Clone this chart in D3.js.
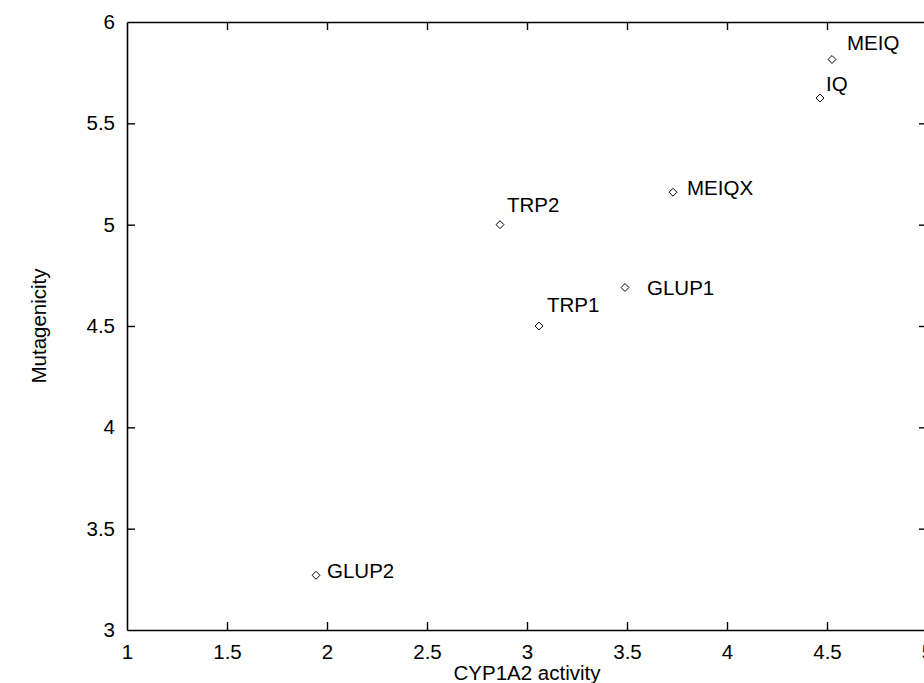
<!DOCTYPE html>
<html>
<head>
<meta charset="utf-8">
<script src="https://cdn.jsdelivr.net/npm/d3@7"></script>
<style>
  body { margin: 0; background: #fff; }
  svg { display: block; font-family: "Liberation Sans", Arial, sans-serif; }
</style>
</head>
<body>
<svg id="chart" width="924" height="683"></svg>
<script>
// compounds, CYP1A2 activity vs mutagenicity
var names = ["GLUP2", "TRP2", "TRP1", "GLUP1", "MEIQX", "IQ", "MEIQ"];
var activity = [1.945, 2.865, 3.06, 3.49, 3.73, 4.465, 4.525];
var mutagenicity = [3.27, 5.0, 4.5, 4.69, 5.16, 5.625, 5.815];

var xTicks = [1, 1.5, 2, 2.5, 3, 3.5, 4, 4.5, 5];
var yTicks = [3, 3.5, 4, 4.5, 5, 5.5, 6];

// label nudges (px) relative to each marker
var labelDx = [11, 7, 8, 22, 14, 6, 15];
var labelDy = [-4, -20, -21, 0, -4, -14, -17];

var points = names.map(function(n, i) {
    return {name: n, x: activity[i], y: mutagenicity[i], dx: labelDx[i], dy: labelDy[i]};
});

var fontSize = "20.5px";
var margin = {top: 22, right: -3, bottom: 53, left: 127};
var width = 924 - margin.left - margin.right,
    height = 683 - margin.top - margin.bottom;

var svg = d3.select("#chart");
var g = svg.append("g").attr("transform", "translate(" + margin.left + "," + margin.top + ")");

var x = d3.scaleLinear().domain([1, 5]).range([0, width]);
var y = d3.scaleLinear().domain([3, 6]).range([height, 0]);

var fmt = function(d) { return d3.format("")(d); };

// bottom axis with labels, ticks pointing in
var xAxis = g.append("g")
    .attr("transform", "translate(0," + height + ")")
    .call(d3.axisBottom(x).tickValues(xTicks).tickFormat(fmt).tickSizeInner(-8).tickSizeOuter(0).tickPadding(14));
var yAxis = g.append("g")
    .call(d3.axisLeft(y).tickValues(yTicks).tickFormat(fmt).tickSizeInner(-8).tickSizeOuter(0).tickPadding(12));
// mirrored top and right
var xTop = g.append("g")
    .call(d3.axisTop(x).tickValues(xTicks).tickFormat("").tickSizeInner(-8).tickSizeOuter(0));
var yRight = g.append("g")
    .attr("transform", "translate(" + width + ",0)")
    .call(d3.axisRight(y).tickValues(yTicks).tickFormat("").tickSizeInner(-8).tickSizeOuter(0));

[xAxis, yAxis, xTop, yRight].forEach(function(a) {
    a.select(".domain").attr("stroke", "#000").attr("stroke-width", 1.6);
    a.selectAll(".tick line").attr("stroke", "#000").attr("stroke-width", 1.4);
    a.selectAll(".tick text").attr("fill", "#000").style("font-size", fontSize)
        .style("font-family", "'Liberation Sans', Arial, sans-serif");
});
// the edge ticks sit on the frame corners
xAxis.selectAll(".tick line").filter(function(d) { return d === 1 || d === 5; }).remove();
xTop.selectAll(".tick line").filter(function(d) { return d === 1 || d === 5; }).remove();
yAxis.selectAll(".tick line").filter(function(d) { return d === 3 || d === 6; }).remove();
yRight.selectAll(".tick line").filter(function(d) { return d === 3 || d === 6; }).remove();

// axis titles
svg.append("text")
    .attr("x", margin.left + x(3))
    .attr("y", 680)
    .attr("text-anchor", "middle")
    .style("font-size", fontSize)
    .text("CYP1A2 activity");

svg.append("text")
    .attr("transform", "translate(46," + (margin.top + y(4.5)) + ") rotate(-90)")
    .attr("text-anchor", "middle")
    .style("font-size", fontSize)
    .text("Mutagenicity");

// diamond markers
var diamond = d3.symbol().type(d3.symbolDiamond2).size(40);
g.selectAll("path.pt")
    .data(points)
    .enter().append("path")
    .attr("class", "pt")
    .attr("d", diamond)
    .attr("transform", function(d) { return "translate(" + x(d.x) + "," + y(d.y) + ")"; })
    .attr("fill", "none")
    .attr("stroke", "#000")
    .attr("stroke-width", 1);

g.selectAll("text.lbl")
    .data(points)
    .enter().append("text")
    .attr("class", "lbl")
    .attr("x", function(d) { return x(d.x) + d.dx; })
    .attr("y", function(d) { return y(d.y) + d.dy; })
    .attr("dy", "0.35em")
    .style("font-size", fontSize)
    .text(function(d) { return d.name; });
</script>
</body>
</html>
